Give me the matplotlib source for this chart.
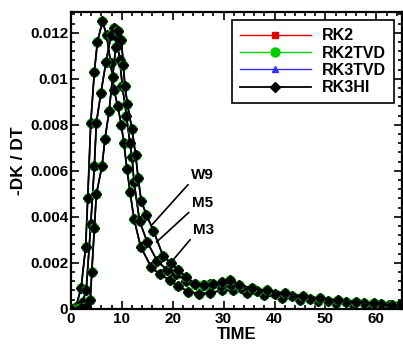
import matplotlib.pyplot as plt
import numpy as np
from matplotlib.ticker import MultipleLocator

plt.rcParams['font.family'] = ['Liberation Sans', 'DejaVu Sans']
plt.rcParams['font.weight'] = 'bold'

# Three cases (M3, M5, W9); all four time schemes lie on top of each other
m3_t = [0, 1.0, 2.0, 2.9, 3.3, 3.9, 4.6, 5.2, 6.2, 7.0, 7.8, 8.5, 9.2, 9.9, 10.4,
        11.0, 11.6, 12.4, 13.7, 15.8, 17.5, 19.4, 21.0, 23.0, 25.2, 27.4, 29.6,
        31.8, 34.5, 38.0, 41.5, 45.0, 48.5, 52.0, 55.5, 59.0, 62.5, 65.0]
m3_v = [0, 0.0001, 0.0009, 0.0027, 0.0048, 0.0081, 0.0103, 0.0116, 0.0125,
        0.0119, 0.0107, 0.0095, 0.0088, 0.0080, 0.0072, 0.0061, 0.0051, 0.0039,
        0.0027, 0.0018, 0.0015, 0.00125, 0.0010, 0.00075, 0.00065, 0.0007,
        0.0008, 0.00083, 0.0007, 0.00058, 0.00048, 0.0004, 0.00033, 0.00027,
        0.00022, 0.00018, 0.00015, 0.00013]

m5_t = [0, 1.5, 2.3, 3.0, 3.9, 4.6, 5.0, 5.9, 6.9, 7.9, 8.4, 9.0, 9.6, 10.1,
        10.9, 11.6, 12.0, 12.4, 13.5, 15.0, 16.9, 18.8, 20.7, 22.7, 24.3, 26.0,
        27.4, 29.5, 31.4, 33.5, 36.5, 40.0, 43.5, 47.0, 50.5, 54.0, 57.5, 61.0,
        64.5]
m5_v = [0, 0.00005, 0.0003, 0.0008, 0.0037, 0.0062, 0.0081, 0.0094, 0.01075,
        0.0119, 0.0122, 0.0118, 0.0108, 0.0097, 0.0084, 0.0072, 0.0066, 0.0055,
        0.0038, 0.0029, 0.0021, 0.0017, 0.0015, 0.0012, 0.0011, 0.00105,
        0.0011, 0.0010, 0.00105, 0.0009, 0.00078, 0.00066, 0.00054, 0.00044,
        0.00036, 0.0003, 0.00024, 0.0002, 0.00016]

w9_t = [0, 2.0, 3.0, 3.8, 4.1, 4.6, 5.0, 6.1, 6.7, 7.5, 8.2, 8.8, 9.3, 9.9,
        10.3, 10.6, 11.1, 12.0, 12.7, 13.2, 13.8, 14.8, 16.2, 18.1, 19.6, 21.0,
        22.6, 24.3, 26.2, 28.0, 29.6, 31.2, 33.0, 35.5, 38.5, 42.0, 45.5, 49.0,
        52.5, 56.0, 59.5, 63.0]
w9_v = [0, 0.00002, 0.0001, 0.0004, 0.0016, 0.0035, 0.0050, 0.0062, 0.0074,
        0.0086, 0.0101, 0.0114, 0.0121, 0.0117, 0.0106, 0.0097, 0.0089, 0.0078,
        0.0067, 0.0057, 0.0047, 0.0041, 0.0034, 0.0023, 0.0020, 0.0017, 0.0014,
        0.0011, 0.00105, 0.0011, 0.00118, 0.00126, 0.00105, 0.0009, 0.0008,
        0.00068, 0.00056, 0.00046, 0.00038, 0.0003, 0.00024, 0.00018]

cases = [(m3_t, m3_v), (m5_t, m5_v), (w9_t, w9_v)]

schemes = ['RK2', 'RK2TVD', 'RK3TVD', 'RK3HI']
colors = ['#e00000', '#00d000', '#3030ff', 'black']
markers = ['s', 'o', '^', 'D']
msizes = [5, 6.5, 5, 5]

fig = plt.figure(figsize=(4.03, 3.47), dpi=100)
ax = fig.add_axes([0.176, 0.11, 0.821, 0.855])

for k, (t, v) in enumerate(cases):
    for name, c, m, ms in zip(schemes, colors, markers, msizes):
        lw = 1.3 if c == 'black' else 1.0
        ax.plot(t, v, color=c, marker=m, ms=ms, mec=c, mfc=c, lw=lw,
                label=name if k == 0 else None)

ax.set_xlim(0, 65)
ax.set_ylim(0, 0.0129)
ax.xaxis.set_major_locator(MultipleLocator(10))
ax.xaxis.set_minor_locator(MultipleLocator(2))
ax.yaxis.set_minor_locator(MultipleLocator(0.0004))
ax.set_yticks([0, 0.002, 0.004, 0.006, 0.008, 0.01, 0.012])
ax.set_yticklabels(['0', '0.002', '0.004', '0.006', '0.008', '0.01', '0.012'])
ax.tick_params(which='both', direction='in', top=True, right=True,
               labelsize=11, width=1.2)
ax.tick_params(which='major', length=6, pad=2)
ax.tick_params(which='minor', length=3)
for s in ax.spines.values():
    s.set_linewidth(1.6)

ax.set_xlabel('TIME', fontsize=12, fontweight='bold', labelpad=1)
ax.set_ylabel('-DK / DT', fontsize=12.5, fontweight='bold', labelpad=3)

# case labels with leader lines
labels = ['W9', 'M5', 'M3']
label_pos = [(23.5, 0.00552), (23.7, 0.0043), (23.9, 0.00313)]
line_end = [(15.9, 0.00365), (16.8, 0.0029), (19.4, 0.00195)]
for lab, p, e in zip(labels, label_pos, line_end):
    ax.annotate(lab, xy=e, xytext=p, fontsize=11, fontweight='bold',
                ha='left', va='bottom',
                arrowprops=dict(arrowstyle='-', color='black', lw=1.2,
                                shrinkA=0, shrinkB=0, relpos=(0, 0)))

leg = ax.legend(loc='upper right', fontsize=11.5, handlelength=4.4,
                fancybox=False, edgecolor='black', framealpha=1,
                borderaxespad=0.5, labelspacing=0.15, handletextpad=0.7,
                borderpad=0.5)
leg.get_frame().set_linewidth(1.2)
for txt in leg.get_texts():
    txt.set_fontweight('bold')

fig.savefig('out.png', dpi=100)
